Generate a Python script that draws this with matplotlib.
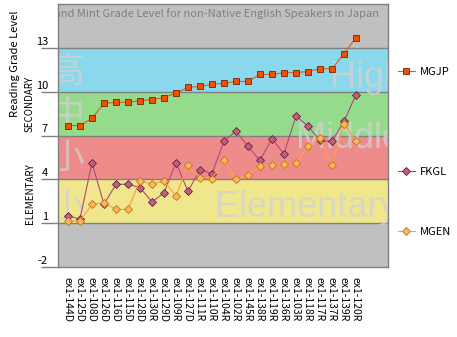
import numpy as np
import matplotlib
matplotlib.use('Agg')
import matplotlib.pyplot as plt
from matplotlib.transforms import ScaledTranslation

plt.rcParams['font.family'] = ['Noto Sans CJK JP', 'DejaVu Sans']

categories = ['ex1-144D', 'ex1-125D', 'ex1-108D', 'ex1-126D', 'ex1-116D', 'ex1-115D',
              'ex1-128D', 'ex1-130R', 'ex1-129D', 'ex1-109R', 'ex1-127D', 'ex1-111R',
              'ex1-110R', 'ex1-104R', 'ex1-102R', 'ex1-145R', 'ex1-138R', 'ex1-119R',
              'ex1-136R', 'ex1-103R', 'ex1-118R', 'ex1-117R', 'ex1-137R', 'ex1-139R',
              'ex1-120R']
mgjp = [7.68, 7.68, 8.18, 9.20, 9.27, 9.27, 9.39, 9.46, 9.59, 9.91, 10.29, 10.36, 10.50,
        10.57, 10.70, 10.70, 11.18, 11.18, 11.30, 11.30, 11.38, 11.57, 11.57, 12.59, 13.70]
fkgl = [1.50, 1.28, 5.14, 2.30, 3.66, 3.66, 3.44, 2.45, 3.07, 5.14, 3.18, 4.66, 4.39,
        6.61, 7.29, 6.25, 5.30, 6.78, 5.75, 8.34, 7.64, 6.66, 6.59, 7.96, 9.80]
mgen = [1.14, 1.16, 2.28, 2.41, 1.94, 1.94, 3.91, 3.66, 3.91, 2.84, 4.96, 4.12, 4.05,
        5.30, 4.05, 4.30, 4.89, 5.00, 5.07, 5.14, 6.25, 6.84, 5.00, 7.80, 6.61]
ytick_values = [-2, 1, 4, 7, 10, 13]
band_edges = [-2, 1, 4, 7, 10, 13, 16]
band_colors = ['#C0C0C0', '#F0E68C', '#EE8C8C', '#94DC8C', '#8AD8EC', '#C0C0C0']
title = 'Flesch-Kincaid Grade Level and Mint Grade Level for non-Native English Speakers in Japan'

fig = plt.figure(figsize=(4.57, 3.37), dpi=100)
ax = fig.add_axes([58/457, 70/337, 330/457, 263/337])
x = np.arange(len(categories))

for lo, hi, c in zip(band_edges[:-1], band_edges[1:], band_colors):
    ax.axhspan(lo, hi, color=c, lw=0, zorder=0)
for v in ytick_values[1:]:
    ax.axhline(v, color='#808080', lw=1, zorder=1)

wm = dict(color='#D2D2D2', alpha=0.75, zorder=1.5, clip_on=True)
ax.text(21.8, 10.34, 'High', fontsize=26, family='Liberation Sans', ha='left', va='baseline', **wm)
ax.text(19.0, 6.12, 'Middle', fontsize=26, family='Liberation Sans', ha='left', va='baseline', **wm)
ax.text(12.25, 1.41, 'Elementary', fontsize=26, family='Liberation Sans', ha='left', va='baseline', **wm)
for ch, yv in [('高', 11.3), ('中', 8.4), ('小', 5.4), ('小', 2.1)]:
    ax.text(-0.1, yv, ch, fontsize=25, ha='center', va='center', **wm)

ax.text(0.973, 0.962, title, transform=ax.transAxes, ha='right', va='center',
        color='#808080', fontsize=8, clip_on=True, zorder=2)

l_fk, = ax.plot(x, fkgl, color='#B04878', lw=0.8, marker='D', ms=4.2,
                mfc='#C0607E', mec='#602038', mew=0.6, zorder=3)
l_mg, = ax.plot(x, mgen, color='#FFA040', lw=0.8, marker='D', ms=4.2,
                mfc='#FFB855', mec='#C07020', mew=0.6, zorder=4)
l_jp, = ax.plot(x, mgjp, color='#C8641E', lw=0.8, marker='s', ms=4.2,
                mfc='#F05000', mec='#802000', mew=0.6, zorder=5)

ax.set_xlim(-0.83, 26.67)
ax.set_ylim(-2, 16)
ax.set_xticks(x)
ax.set_xticklabels(categories, rotation=-90, fontsize=7.5)
ax.tick_params(axis='x', length=0, pad=7)
ax.set_yticks(ytick_values)
ax.set_yticklabels([str(v) for v in ytick_values])
ax.tick_params(axis='y', length=12.2, width=1, color='#808080', pad=-5, labelsize=8)
for sp in ax.spines.values():
    sp.set_color('#808080')
    sp.set_linewidth(1)
off = ScaledTranslation(0, 7/100, fig.dpi_scale_trans)
for t in ax.yaxis.get_major_ticks():
    t.label1.set_transform(t.label1.get_transform() + off)

fig.text(15/457, 1-64/337, 'Reading Grade Level', rotation=90, ha='center', va='center', fontsize=8)
fig.text(30/457, 1-104/337, 'SECONDARY', rotation=90, ha='center', va='center', fontsize=7)
fig.text(30/457, 1-194/337, 'ELEMENTARY', rotation=90, ha='center', va='center', fontsize=7)

for h, name, yp in [(l_jp, 'MGJP', 72), (l_fk, 'FKGL', 172), (l_mg, 'MGEN', 232)]:
    fig.legend(handles=[h], labels=[name], loc='center left',
               bbox_to_anchor=(398/457, 1-yp/337), frameon=False, borderpad=0,
               borderaxespad=0, handlelength=1.5, handletextpad=0.5, fontsize=8)

fig.savefig('out.png', dpi=100)
